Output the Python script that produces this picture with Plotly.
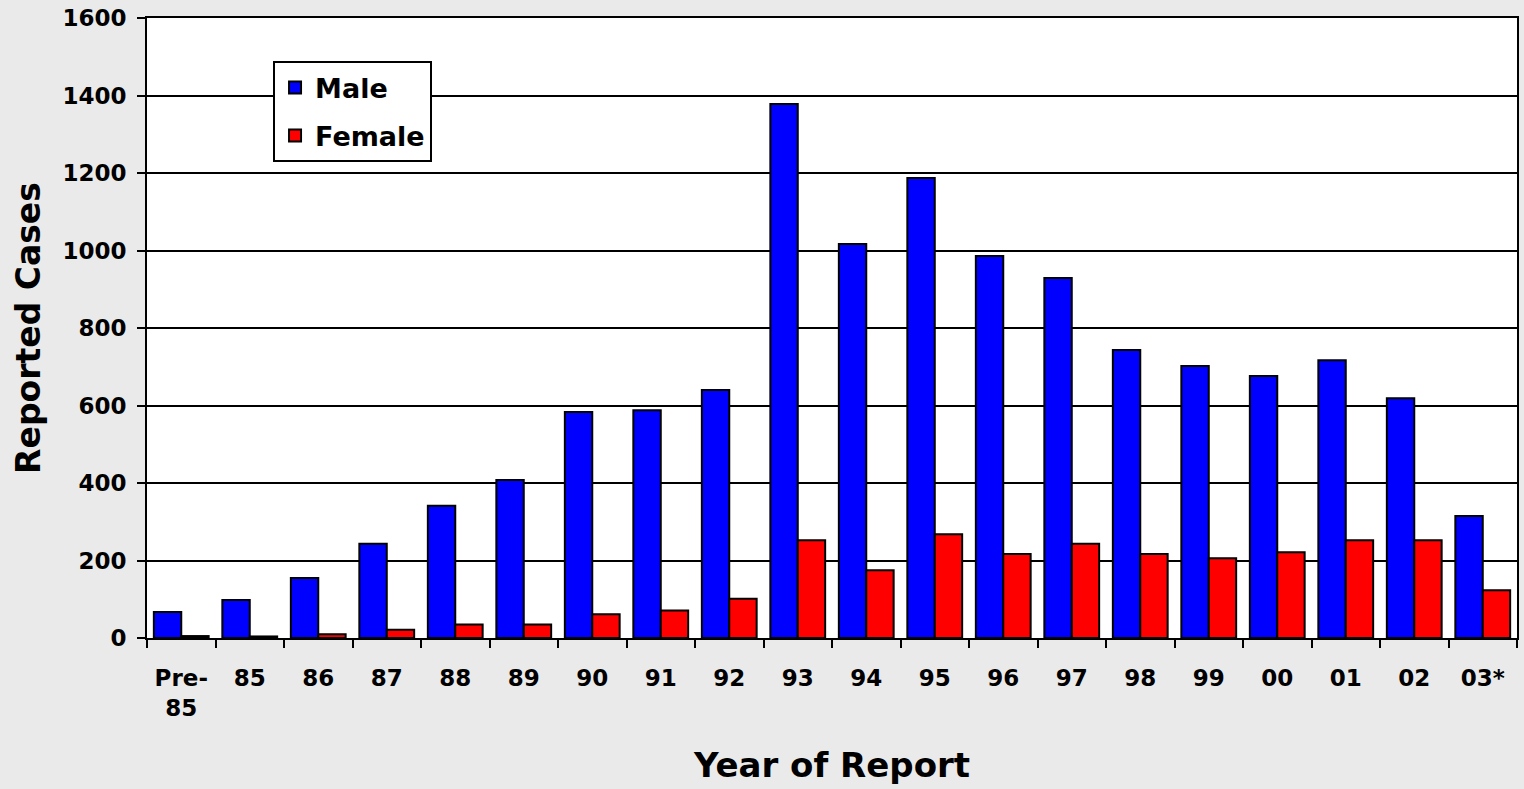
import plotly.graph_objects as go

categories = ["Pre-<br>85", "85", "86", "87", "88", "89", "90", "91", "92", "93",
              "94", "95", "96", "97", "98", "99", "00", "01", "02", "03*"]
male = [67, 98, 155, 243, 341, 408, 583, 588, 640, 1378,
        1017, 1187, 986, 929, 743, 702, 676, 717, 619, 315]
female = [5, 4, 10, 21, 35, 35, 61, 71, 101, 252,
          175, 268, 217, 243, 217, 206, 221, 252, 252, 123]
y_ticks = [0, 200, 400, 600, 800, 1000, 1200, 1400, 1600]

FONT = "DejaVu Sans"

fig = go.Figure()
fig.add_trace(go.Bar(x=categories, y=male, name="Male", legendgroup="m",
                     marker=dict(color="#0000FF", line=dict(color="black", width=2))))
fig.add_trace(go.Bar(x=categories, y=female, name="Female", legendgroup="f",
                     marker=dict(color="#FF0000", line=dict(color="black", width=2))))

fig.update_layout(
    width=1524, height=789,
    paper_bgcolor="#EAEAEA", plot_bgcolor="white",
    margin=dict(l=147, r=5, t=18, b=151),
    barmode="group", bargap=0.2, bargroupgap=0,
    font=dict(family=FONT, color="black", weight="bold"),
    legend=dict(x=0.092, y=0.93, xanchor="left", yanchor="top",
                bgcolor="white", bordercolor="black", borderwidth=2,
                font=dict(family=FONT, size=27, weight="bold", color="black"),
                traceorder="grouped", tracegroupgap=10, itemwidth=30),
    showlegend=True,
)
fig.update_xaxes(
    type="category", tickson="boundaries", ticks="outside", ticklen=8, tickwidth=2,
    tickcolor="black", showline=True, linecolor="black", linewidth=2, mirror=True,
    ticklabelstandoff=18,
    tickfont=dict(family=FONT, size=23, weight="bold"),
    title=dict(text="Year of Report", font=dict(family=FONT, size=34, weight="bold"), standoff=34),
)
fig.update_yaxes(
    range=[0, 1600], tickvals=y_ticks, ticks="outside", ticklen=8, tickwidth=2,
    tickcolor="black", showline=True, linecolor="black", linewidth=2, mirror=True,
    showgrid=True, gridcolor="black", gridwidth=2, zeroline=False,
    ticklabelstandoff=6,
    tickfont=dict(family=FONT, size=23, weight="bold"),
    title=dict(text="Reported Cases", font=dict(family=FONT, size=33, weight="bold"), standoff=12),
)

fig.write_html("out.html", config={"displayModeBar": False},
               post_script="document.body.style.margin='0';")
